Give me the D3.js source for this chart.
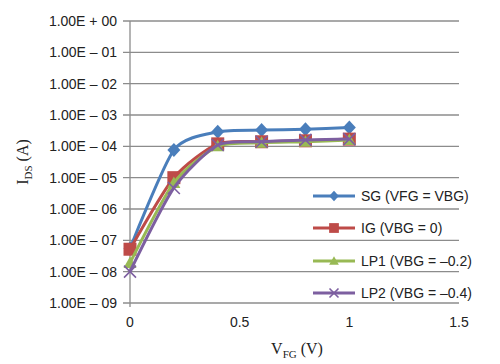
<!DOCTYPE html>
<html><head><meta charset="utf-8">
<script src="https://cdn.jsdelivr.net/npm/d3@7"></script>
<style>body{margin:0;background:#fff}</style>
</head><body>
<svg id="c" width="500" height="364"></svg>
<script>
const xValues = [0, 0.2, 0.4, 0.6, 0.8, 1.0];
const sgValues  = [5.5e-8, 7.6e-5, 2.9e-4, 3.3e-4, 3.5e-4, 4.0e-4];
const igValues  = [5.2e-8, 1.0e-5, 1.2e-4, 1.4e-4, 1.5e-4, 1.7e-4];
const lp1Values = [1.9e-8, 6.8e-6, 1.0e-4, 1.3e-4, 1.4e-4, 1.6e-4];
const lp2Values = [1.0e-8, 4.7e-6, 1.1e-4, 1.4e-4, 1.6e-4, 1.7e-4];
const seriesNames = ["SG (VFG = VBG)", "IG (VBG = 0)", "LP1 (VBG = \u20130.2)", "LP2 (VBG = \u20130.4)"];
const yTickLabels = ["1.00E + 00","1.00E \u2013 01","1.00E \u2013 02","1.00E \u2013 03","1.00E \u2013 04","1.00E \u2013 05","1.00E \u2013 06","1.00E \u2013 07","1.00E \u2013 08","1.00E \u2013 09"];
const xTickLabels = ["0","0.5","1","1.5"];

const colors = ["#4a7ebb","#be4b48","#98b954","#7d5fa0"];
const shapes = ["diamond","square","triangle","x"];
const series = [sgValues, igValues, lp1Values, lp2Values];

const svg = d3.select("#c");
const L = 130, R = 459, T = 21, B = 303;
const x = d3.scaleLinear().domain([0, 1.5]).range([L, R]);
const y = d3.scaleLog().domain([1e-9, 1]).range([B, T]);
const yTicks = yTickLabels.map((d,i)=>Math.pow(10,-i));

svg.append("g").selectAll("line").data(yTicks).join("line")
  .attr("x1", L-7).attr("x2", R).attr("y1", d=>y(d)).attr("y2", d=>y(d))
  .attr("stroke", "#8c8c8c").attr("stroke-width", 1.3);
svg.append("line").attr("x1", L).attr("x2", L).attr("y1", T).attr("y2", B+4)
  .attr("stroke", "#8c8c8c").attr("stroke-width", 1.3);

svg.append("g").selectAll("text").data(yTicks).join("text")
  .attr("x", 117).attr("y", d=>y(d)).attr("dy", "0.35em")
  .attr("text-anchor", "end")
  .attr("font-family", "Liberation Sans, Arial, sans-serif").attr("font-size", 14)
  .attr("fill", "#222")
  .text((d,i)=>yTickLabels[i]);

const xTicks = [0, 0.5, 1, 1.5];
svg.append("g").selectAll("text").data(xTicks).join("text")
  .attr("x", d=>x(d)).attr("y", 327)
  .attr("text-anchor", "middle")
  .attr("font-family", "Liberation Sans, Arial, sans-serif").attr("font-size", 14)
  .attr("fill", "#222")
  .text((d,i)=>xTickLabels[i]);

const yt = svg.append("text").attr("transform", "translate(28,162) rotate(-90)")
  .attr("text-anchor", "middle")
  .attr("font-family", "Liberation Serif, Times New Roman, serif").attr("font-size", 16).attr("fill", "#222");
yt.append("tspan").text("I");
yt.append("tspan").attr("font-size", 11).attr("dy", 4).text("DS");
yt.append("tspan").attr("dy", -4).text(" (A)");

const xt = svg.append("text").attr("x", 297).attr("y", 354)
  .attr("text-anchor", "middle")
  .attr("font-family", "Liberation Serif, Times New Roman, serif").attr("font-size", 16).attr("fill", "#222");
xt.append("tspan").text("V");
xt.append("tspan").attr("font-size", 11).attr("dy", 4).text("FG");
xt.append("tspan").attr("dy", -4).text(" (V)");

function marker(g, shape, color, cx, cy, s) {
  if (shape === "diamond") {
    g.append("path").attr("d", `M${cx},${cy-7*s}L${cx+6.5*s},${cy}L${cx},${cy+7*s}L${cx-6.5*s},${cy}Z`)
      .attr("fill", color);
  } else if (shape === "square") {
    g.append("rect").attr("x", cx-6.5*s).attr("y", cy-6.5*s).attr("width", 13*s).attr("height", 13*s)
      .attr("fill", color);
  } else if (shape === "triangle") {
    g.append("path").attr("d", `M${cx},${cy-6.5*s}L${cx+6.5*s},${cy+5*s}L${cx-6.5*s},${cy+5*s}Z`)
      .attr("fill", color);
  } else {
    g.append("path").attr("d", `M${cx-6*s},${cy-6*s}L${cx+6*s},${cy+6*s}M${cx-6*s},${cy+6*s}L${cx+6*s},${cy-6*s}`)
      .attr("stroke", color).attr("stroke-width", 1.6);
  }
}

const line = d3.line().x(d=>x(d[0])).y(d=>y(d[1])).curve(d3.curveCardinal.tension(0.3));

series.forEach((vals, i) => {
  const g = svg.append("g");
  const pts = xValues.map((xv, j) => [xv, vals[j]]);
  g.append("path").datum(pts).attr("d", line)
    .attr("fill", "none").attr("stroke", colors[i]).attr("stroke-width", 3);
  pts.forEach(p => marker(g, shapes[i], colors[i], x(p[0]), y(p[1]), 1));
});

const legY = [196, 228, 261, 293];
seriesNames.forEach((name, i) => {
  const g = svg.append("g");
  g.append("line").attr("x1", 313).attr("x2", 355).attr("y1", legY[i]).attr("y2", legY[i])
    .attr("stroke", colors[i]).attr("stroke-width", 3);
  marker(g, shapes[i], colors[i], 334, legY[i], 0.75);
  g.append("text").attr("x", 361).attr("y", legY[i]).attr("dy", "0.35em")
    .attr("font-family", "Liberation Sans, Arial, sans-serif").attr("font-size", 14)
    .attr("fill", "#222").text(name);
});
</script>
</body></html>
